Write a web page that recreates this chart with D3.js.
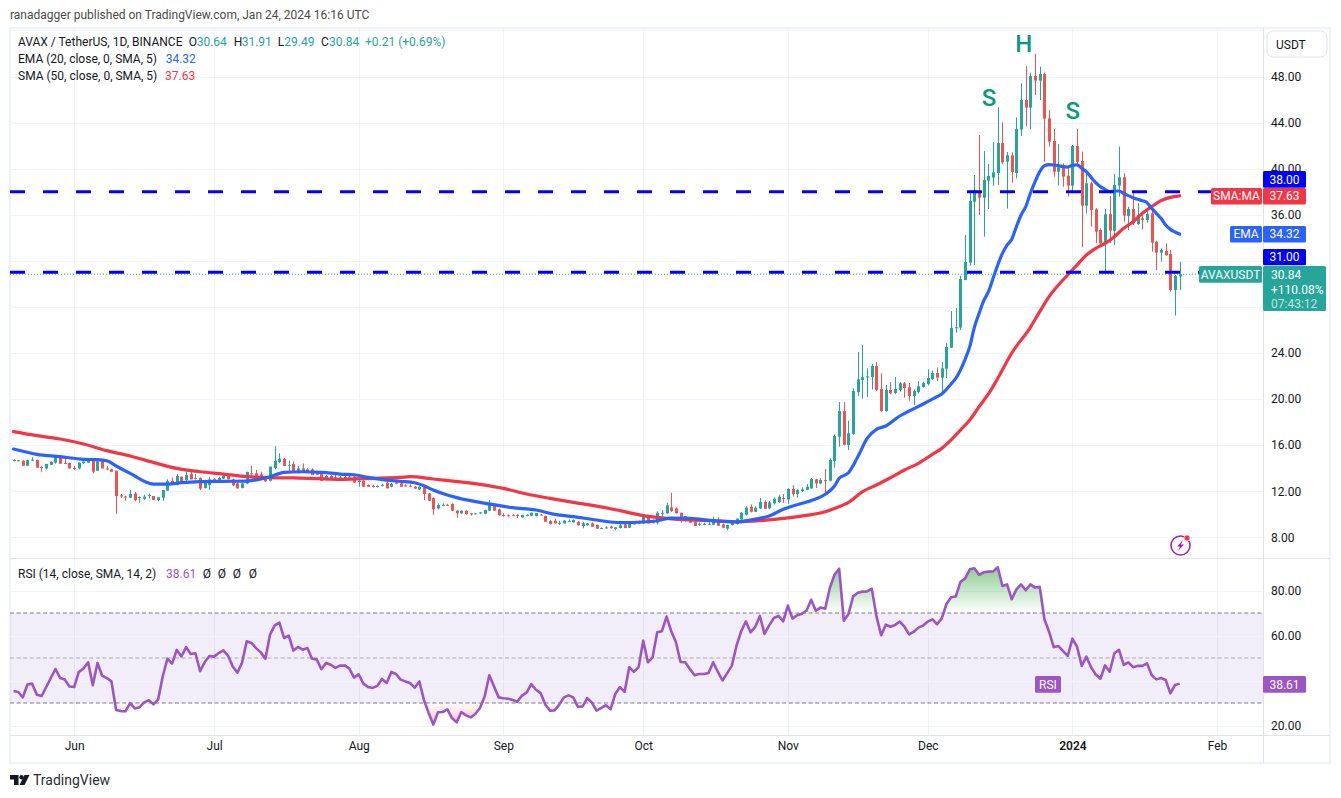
<!DOCTYPE html>
<html lang="en">
<head>
<meta charset="utf-8">
<script src="https://d3js.org/d3.v7.min.js"></script>
<style type="text/css">
html, body { margin: 0; padding: 0; background: #fff; }
svg { display: block; }
text { font-family: Roboto, sans-serif; font-size: 12px; fill: #131722; }
.grid line { stroke: #f0f3fa; stroke-width: 1; shape-rendering: crispEdges; }
.grid path, .axis path, .axis line { display: none; }
.axis text { font-size: 12px; fill: #131722; }
</style>
</head>
<body>
<svg id="chart" width="1341" height="798"></svg>
<script type="text/javascript">

// daily candles, 2023-05-19 to 2024-01-24
const opens = [
14.66,14.68,14.65,14.22,14.7,14.71,14.1,13.98,14.3,14.48,
14.91,14.45,14.45,14.02,13.98,14.42,14.48,14.82,13.78,14.68,
13.98,13.9,13.78,11.64,11.55,11.44,11.81,11.44,11.35,11.58,
11.58,11.24,11.44,12.05,12.91,12.54,13.26,12.97,13.49,13.12,
13.15,12.28,12.54,13.05,12.8,13.09,13.32,13.03,12.68,12.28,
12.68,13.55,13.55,13.46,13.26,12.91,14.01,14.53,14.82,14.24,
14.36,13.69,13.98,13.73,13.9,13.44,13.49,13.0,13.32,13.2,
13.12,13.24,13.18,13.26,12.8,12.91,12.54,12.48,12.39,12.45,
12.74,12.39,12.74,12.68,12.5,12.48,12.39,12.16,12.34,11.81,
11.41,10.51,10.74,10.82,10.89,10.31,10.08,10.31,10.08,10.06,
10.08,10.05,10.31,10.8,10.42,9.93,9.91,9.92,9.93,9.73,
9.85,9.88,9.85,9.96,9.85,9.41,9.44,9.25,9.21,9.41,
9.3,9.35,8.98,9.04,9.21,9.07,8.78,8.84,8.92,8.72,
8.8,9.12,8.83,9.3,9.3,9.21,9.73,9.27,9.27,10.1,
10.08,10.6,10.51,10.13,9.5,9.56,9.35,9.15,9.15,9.15,
9.09,9.44,9.12,8.75,9.07,9.15,9.56,9.96,10.66,10.22,
10.51,11.06,10.51,10.95,11.06,11.4,11.29,12.19,11.76,12.02,
12.13,12.25,13.03,12.68,12.97,12.91,14.62,16.73,18.96,16.01,
16.97,20.61,21.65,21.92,21.91,22.87,20.87,18.96,20.79,20.53,
20.79,21.37,21.02,20.27,20.61,21.05,21.31,21.74,22.26,21.86,
22.64,24.46,26.17,26.2,30.33,31.84,37.14,38.06,37.48,38.96,
39.22,39.62,42.23,40.61,41.16,39.62,43.39,45.96,45.3,48.05,
47.64,48.22,44.37,42.4,39.74,40.26,39.39,38.53,41.97,40.67,
36.79,38.73,36.47,34.68,33.6,36.06,34.62,38.53,39.25,35.89,
36.5,35.2,35.69,35.54,36.12,33.66,32.71,32.85,32.59,29.47,
30.64];
const highs = [
14.76,14.72,14.68,14.74,14.94,14.74,14.16,14.38,14.58,15.03,
15.05,14.85,14.5,14.2,14.5,14.59,14.85,14.9,14.65,14.72,
14.2,13.95,13.8,11.76,11.6,12.1,11.93,11.55,11.7,11.81,
11.6,11.47,12.1,13.03,13.2,13.49,13.3,13.69,13.69,13.49,
13.2,13.0,13.26,13.15,13.25,13.55,13.4,13.1,12.9,12.75,
13.7,14.19,13.84,13.69,13.35,14.13,15.92,15.29,14.9,14.65,
14.59,14.2,14.42,14.0,14.0,13.6,13.69,13.4,13.4,13.45,
13.3,13.4,13.35,13.4,12.97,13.0,12.6,12.55,12.5,12.65,
12.9,12.72,12.85,12.72,12.6,12.6,12.45,12.42,12.4,11.85,
11.45,10.95,10.95,10.9,10.95,10.35,10.35,10.35,10.12,10.12,
10.2,10.4,11.24,10.85,10.5,10.08,9.98,10.0,10.02,9.96,
10.0,10.15,10.12,10.02,9.88,9.5,9.61,9.45,9.5,9.55,
9.55,9.4,9.35,9.25,9.3,9.1,8.86,8.95,9.02,8.88,
9.15,9.2,9.3,9.35,9.45,9.9,9.95,9.55,10.25,10.37,
11.0,11.87,10.6,10.15,9.85,9.6,9.4,9.3,9.28,9.3,
9.79,9.75,9.2,9.1,9.4,9.65,10.2,10.7,10.85,10.7,
11.41,11.2,11.15,11.45,11.7,11.76,12.25,12.54,12.16,12.34,
12.63,13.15,13.09,13.15,13.93,14.85,16.94,19.74,19.74,18.12,
20.93,24.09,24.69,22.67,23.04,23.22,22.23,21.22,21.48,21.91,
21.48,21.48,21.42,20.84,21.57,21.51,22.58,22.46,22.75,23.22,
24.87,27.64,27.9,30.71,34.24,38.0,39.45,42.92,41.53,40.4,
42.32,45.33,44.02,41.45,41.42,44.46,47.41,48.91,48.34,49.96,
48.86,48.36,45.1,43.44,42.14,40.46,40.17,42.06,43.44,41.48,
39.6,38.87,36.56,34.82,36.5,37.63,39.54,41.91,39.6,36.7,
37.86,36.99,36.27,36.56,36.7,33.75,33.08,33.52,32.94,30.77,
31.91];
const lows = [
14.6,14.6,14.2,14.2,14.66,14.04,13.69,13.9,14.28,14.4,
14.39,14.39,13.98,13.84,13.9,14.38,14.45,13.55,13.75,13.98,
13.82,13.69,10.02,11.41,11.18,11.4,11.12,11.0,11.24,11.38,
11.24,11.12,11.15,12.05,12.54,12.5,12.83,12.9,13.03,13.03,
12.1,12.25,12.1,12.85,12.75,13.05,13.03,12.45,12.22,12.25,
12.6,13.25,13.0,13.1,12.8,12.86,13.9,14.45,14.19,13.78,
13.61,13.55,13.62,13.6,13.41,13.4,12.91,12.95,13.09,13.1,
12.98,13.05,13.1,12.74,12.39,12.39,12.39,12.33,12.33,12.42,
12.25,12.35,12.6,12.39,12.4,12.36,12.2,12.1,11.24,11.15,
9.96,10.42,10.7,10.74,10.31,9.7,10.03,9.95,9.88,10.0,
10.03,10.0,10.28,10.31,9.9,9.79,9.8,9.84,9.67,9.7,
9.82,9.85,9.82,9.9,9.35,9.12,9.2,9.08,9.18,9.35,
9.28,9.04,8.78,9.0,8.92,8.75,8.74,8.75,8.78,8.64,
8.78,8.8,8.8,9.1,9.2,9.15,9.21,9.2,9.1,9.79,
10.05,10.2,10.08,9.27,9.35,9.27,8.98,9.0,9.05,9.08,
9.05,9.0,8.83,8.6,9.02,9.1,9.5,9.9,10.15,10.18,
10.45,10.48,10.45,10.85,11.0,11.0,10.89,11.53,11.44,11.93,
12.08,12.19,12.28,12.6,11.81,12.86,14.04,15.87,15.98,15.58,
16.91,20.27,20.03,20.18,20.84,20.7,18.88,18.9,20.41,20.44,
20.64,20.12,19.86,19.48,20.5,20.99,21.19,21.65,21.57,20.5,
21.83,24.43,25.76,26.0,30.33,31.58,31.64,35.98,34.1,36.5,
38.53,38.58,40.38,36.53,38.79,39.16,42.84,43.7,43.42,46.4,
45.96,40.61,41.91,39.3,38.53,38.44,37.57,38.06,40.32,33.17,
36.12,34.97,33.52,33.29,31.03,33.52,33.37,37.57,35.4,34.68,
35.11,35.11,34.73,35.31,32.79,31.2,31.93,32.42,29.32,27.24,
29.49];
const closes = [
14.7,14.62,14.22,14.7,14.74,14.04,14.04,14.36,14.56,15.0,
14.39,14.4,13.98,13.98,14.48,14.59,14.82,13.69,14.59,13.98,
13.9,13.69,11.58,11.55,11.53,11.76,11.21,11.5,11.53,11.67,
11.24,11.47,12.1,12.86,12.54,13.32,12.83,13.41,13.03,13.14,
12.22,12.97,13.03,13.03,13.15,13.32,13.03,12.51,12.25,12.68,
13.67,13.5,13.26,13.2,12.86,14.13,14.65,14.82,14.19,14.3,
13.61,13.98,13.69,13.9,13.41,13.55,12.91,13.32,13.09,13.12,
13.2,13.12,13.26,12.74,12.91,12.39,12.39,12.36,12.45,12.54,
12.25,12.62,12.68,12.39,12.45,12.39,12.22,12.39,11.76,11.18,
10.42,10.8,10.83,10.8,10.31,10.08,10.31,10.02,10.02,10.08,
10.16,10.37,10.95,10.31,9.9,9.9,9.88,9.89,9.86,9.93,
9.96,10.13,10.1,9.95,9.35,9.15,9.21,9.27,9.44,9.43,
9.5,9.04,9.21,9.21,8.92,8.75,8.8,8.86,8.78,8.86,
9.04,8.8,9.27,9.12,9.25,9.79,9.21,9.44,10.13,10.13,
10.77,10.28,10.08,9.5,9.85,9.27,8.98,9.17,9.17,9.18,
9.44,9.01,8.83,9.07,9.35,9.61,10.13,10.57,10.22,10.57,
11.06,10.48,11.03,11.35,11.53,11.32,12.19,11.76,12.1,12.16,
12.39,13.06,12.68,12.97,12.93,14.71,16.79,18.96,16.04,17.02,
20.7,21.71,21.89,21.97,22.87,20.79,18.96,20.79,20.5,20.87,
21.37,20.96,20.27,20.7,21.1,21.39,21.83,22.26,21.86,22.67,
24.52,26.17,26.23,30.42,31.9,37.19,38.15,37.48,39.02,39.36,
39.68,42.23,40.55,41.16,39.71,43.44,45.96,45.3,48.05,47.64,
48.22,44.34,42.35,39.74,40.12,39.3,38.53,41.97,40.58,36.79,
38.73,36.41,34.53,33.52,36.04,34.62,38.58,39.25,35.92,36.5,
35.25,35.98,35.54,36.06,33.58,32.71,32.94,32.5,29.47,30.68,
30.84];

// moving averages, read at these candle numbers
const emaDays = [0,5,10,15,18,20,22,25,30,33,36,40,45,50,55,58,62,66,70,73,76,80,83,86,88,90,95,100,103,107,112,116,120,125,130,135,138,141,145,150,155,158,162,165,168,170,174,176,177,179,181,183,185,187,190,192,195,198,199,201,202,204,205,206,207,208,209,210,211,212,213,214,215,216,217,218,219,220,221,222,223,224,225,226,227,228,229,230,231,232,233,234,235,236,237,238,239,240,241,242,243,244,245,246,247,248,249,250];
const emaValues = [15.66,15.2,15.0,14.77,14.74,14.65,14.19,13.55,12.62,12.62,12.74,12.83,12.86,12.88,13.26,13.64,13.69,13.64,13.49,13.43,13.2,12.97,12.86,12.74,12.48,12.1,11.44,11.03,10.83,10.57,10.37,9.99,9.79,9.5,9.27,9.33,9.44,9.67,9.64,9.44,9.33,9.5,9.85,10.43,10.83,11.06,11.73,12.45,13.12,13.61,14.99,16.59,17.37,17.66,18.53,18.96,19.57,20.21,20.44,21.31,21.8,23.45,24.55,26.25,27.44,28.54,29.32,30.48,31.64,32.65,33.37,33.87,34.97,35.98,36.7,37.86,38.87,39.74,40.26,40.35,40.32,40.26,40.17,40.14,40.29,40.32,40.03,39.74,39.25,38.79,38.44,38.21,38.0,38.06,38.06,37.86,37.66,37.48,37.34,37.22,37.05,36.56,36.12,35.69,35.11,34.73,34.5,34.32];
const smaDays = [0,5,10,15,20,25,30,35,40,45,50,55,60,65,70,75,80,83,85,90,100,105,110,115,120,125,130,135,140,145,150,155,160,165,170,174,176,179,182,185,188,191,194,197,199,201,203,205,207,209,211,214,218,220,222,224,226,228,230,232,234,236,238,240,242,244,246,248,250];
const smaValues = [17.17,16.82,16.53,16.1,15.52,15.06,14.5,13.98,13.69,13.49,13.26,13.17,13.15,13.09,13.03,13.09,13.15,13.2,13.26,13.06,12.6,12.25,11.76,11.38,11.03,10.71,10.31,9.88,9.64,9.5,9.44,9.35,9.44,9.64,9.9,10.22,10.51,11.03,11.96,12.54,13.17,13.84,14.42,15.2,15.72,16.45,17.31,18.18,19.34,20.44,21.8,24.0,26.23,27.59,28.89,29.9,30.77,31.64,32.5,33.08,33.52,34.1,34.82,35.4,36.12,36.7,37.22,37.51,37.63];

const rsiValues = [
35.3,34.9,32.5,38.2,38.6,33.7,33.1,37,41.1,45.1,
41.1,40.4,37.3,37.1,43.8,45.3,48.1,37.9,47.8,42.2,
41.1,39.6,26.9,26.4,26.3,29.9,27.6,28.1,30.3,31.2,
29.4,31.5,41.9,49.7,47.5,53.6,50.7,54.8,51.8,52.1,
44.1,48.2,50.9,50.6,52.2,53.4,51,46.2,43.5,48,
57.4,56.7,54.4,52.5,49.7,60.4,64.5,65.7,58.9,59.9,
53.3,54.9,53.7,54.4,49.7,49.4,45,47.8,47,45.6,
46.6,46.7,45.3,41.3,42.7,38.6,37.1,36.7,37.6,40.7,
38.9,43.8,42.9,40.4,39.6,38.9,36.8,39.6,31.2,25.6,
20.4,25.9,26,27.2,23.3,21.4,26,24.5,23.6,25.1,
27.8,32.9,42.3,37.4,32.5,32.1,31.9,31.3,30.6,33.3,
34.6,38.4,35.9,34.4,29.3,26.6,26.7,29.3,32.5,33.4,
32.5,28.2,28.5,32.2,30.1,26.6,27.8,29,27.2,34,
37.1,34.9,45.9,43.8,45.9,57.7,48.1,50.3,61.4,61.9,
68.4,61.9,57.1,48.2,48.1,45.1,42.3,42.9,42.9,43.3,
48.1,43.8,40,43.3,46.6,55.5,61.9,66.3,61.4,63.8,
68.7,60.7,64.5,67.8,68.7,66.3,73.3,67.5,69,69.7,
71,75.9,71,72.4,71.9,81.1,87,89.7,66.6,69.6,
77.4,79,79.5,79.6,80.8,68.5,60.1,64.8,63.9,64.7,
66.2,63.9,60.5,61.7,63.5,64.4,66.2,67.2,65,67.6,
74,77,77.3,83.8,85.4,89.4,89.9,87,88.1,88.4,
88.5,90.3,82,82.7,76.1,80.5,82.7,80.1,82.7,81.3,
81.6,67.2,61.7,54.8,55.3,53.1,50.9,58.6,55,46.5,
50.6,45.9,42.7,40.8,46.7,43.9,52.1,53.6,46.9,48.1,
45.9,46.5,46.5,47.6,42.3,40.5,41.1,40.2,34.3,38,
38.61];

// axes
const priceTicks = [8,12,16,20,24,36,40,44,48];
const priceGrid = [8,12,16,20,24,28,32,36,40,44,48,52];
const rsiGrid = [20,40,60,80];
const rsiTicks = [20,60,80];
const monthTicks = ["2023-06-01","2023-07-01","2023-08-01","2023-09-01","2023-10-01","2023-11-01","2023-12-01","2024-01-01","2024-02-01"];
const monthLabels = ["Jun","Jul","Aug","Sep","Oct","Nov","Dec","2024","Feb"];

// drawn levels and pattern letters
const levels = [38, 31];
const patternLetters = ["S","H","S"];
const patternDays = [209.1,216.6,227.1];
const patternPrices = [45.44,50.13,44.31];

const legendEma = "34.32", legendSma = "37.63", legendRsi = "38.61";
const colUp = "#26a69a", colDown = "#ef5350", colEma = "#2962ff", colSma = "#f23645", colRsi = "#9c55c2", colLevel = "#0000ff";

const parseDay = d3.utcParse("%Y-%m-%d");
const firstDay = parseDay("2023-05-19");
const dayOf = n => new Date(+firstDay + n * 864e5);
const days = closes.map((c, i) => dayOf(i));
const monthDates = monthTicks.map(parseDay);

const paneLeft = 10, paneRight = 1263, priceTop = 28, priceBottom = 558, rsiTop = 559, rsiBottom = 735;

var x = d3.scaleUtc().domain([firstDay, parseDay("2024-02-01")]).range([13.5, 1217]);
var y = d3.scaleLinear().domain([8, 48]).range([537.3, 76.5]);
var yRsi = d3.scaleLinear().domain([20, 80]).range([725.5, 590.5]);

var svg = d3.select("#chart");
var defs = svg.append("defs");

defs.append("clipPath").attr("id", "pricePane").append("rect")
	.attr("x", paneLeft).attr("y", priceTop).attr("width", paneRight - paneLeft).attr("height", priceBottom - priceTop);
defs.append("clipPath").attr("id", "rsiTopClip").append("rect")
	.attr("x", paneLeft).attr("y", rsiTop).attr("width", paneRight - paneLeft).attr("height", yRsi(70) - rsiTop);
defs.append("clipPath").attr("id", "rsiLowClip").append("rect")
	.attr("x", paneLeft).attr("y", yRsi(30)).attr("width", paneRight - paneLeft).attr("height", rsiBottom - yRsi(30));

var gradUp = defs.append("linearGradient").attr("id", "gradUp").attr("gradientUnits", "userSpaceOnUse")
	.attr("x1", 0).attr("x2", 0).attr("y1", yRsi(90)).attr("y2", yRsi(70));
gradUp.append("stop").attr("offset", 0).attr("stop-color", "#4caf50").attr("stop-opacity", 0.62);
gradUp.append("stop").attr("offset", 1).attr("stop-color", "#4caf50").attr("stop-opacity", 0);
var gradDown = defs.append("linearGradient").attr("id", "gradDown").attr("gradientUnits", "userSpaceOnUse")
	.attr("x1", 0).attr("x2", 0).attr("y1", yRsi(30)).attr("y2", yRsi(20));
gradDown.append("stop").attr("offset", 0).attr("stop-color", "#ff5252").attr("stop-opacity", 0);
gradDown.append("stop").attr("offset", 1).attr("stop-color", "#ff5252").attr("stop-opacity", 0.4);

// frame
svg.append("rect").attr("x", 10).attr("y", 28).attr("width", 1320).attr("height", 735)
	.attr("fill", "none").attr("stroke", "#f0f3fa").attr("stroke-width", 2.5);

// grids
svg.append("g").attr("class", "grid")
	.attr("transform", "translate(" + paneLeft + ",0)")
	.call(d3.axisRight(y).tickValues(priceGrid).tickSize(paneRight - paneLeft).tickFormat(""));
svg.append("g").attr("class", "grid")
	.attr("transform", "translate(0," + priceTop + ")")
	.call(d3.axisBottom(x).tickValues(monthDates).tickSize(priceBottom - priceTop).tickFormat(""));
svg.append("g").attr("class", "grid")
	.attr("transform", "translate(0," + rsiTop + ")")
	.call(d3.axisBottom(x).tickValues(monthDates).tickSize(rsiBottom - rsiTop).tickFormat(""));

// rsi band
svg.append("rect").attr("x", paneLeft).attr("width", paneRight - paneLeft)
	.attr("y", yRsi(70)).attr("height", yRsi(30) - yRsi(70))
	.attr("fill", "#7e57c2").attr("fill-opacity", 0.1);
svg.append("g").attr("class", "grid")
	.attr("transform", "translate(" + paneLeft + ",0)")
	.call(d3.axisRight(yRsi).tickValues(rsiGrid).tickSize(paneRight - paneLeft).tickFormat(""));

// pane separators
svg.append("g").selectAll("line").data([558.5, 735.5]).join("line")
	.attr("x1", paneLeft).attr("x2", 1330).attr("y1", d => d).attr("y2", d => d)
	.attr("stroke", "#e0e3eb").attr("stroke-width", 1);
svg.append("line").attr("x1", 1263.5).attr("x2", 1263.5).attr("y1", 28).attr("y2", 763)
	.attr("stroke", "#e0e3eb").attr("stroke-width", 1);

// axis labels
var priceAxis = svg.append("g").attr("class", "axis")
	.attr("transform", "translate(1271,0)")
	.call(d3.axisRight(y).tickValues(priceTicks).tickSize(0).tickPadding(0).tickFormat(d3.format(".2f")));
var rsiAxis = svg.append("g").attr("class", "axis")
	.attr("transform", "translate(1271,0)")
	.call(d3.axisRight(yRsi).tickValues(rsiTicks).tickSize(0).tickPadding(0).tickFormat(d3.format(".2f")));
var timeAxis = svg.append("g").attr("class", "axis")
	.attr("transform", "translate(0,741)")
	.call(d3.axisBottom(x).tickValues(monthDates).tickSize(0).tickPadding(0)
		.tickFormat((d, i) => monthLabels[i]));
timeAxis.selectAll("text").filter((d, i) => monthLabels[i] === "2024").style("font-weight", 600);

// candles
var candleData = days.map((d, i) => ({ day: d, o: opens[i], h: highs[i], l: lows[i], c: closes[i] }));
var candles = svg.append("g").attr("clip-path", "url(#pricePane)");
candles.selectAll("rect.wick").data(candleData).join("rect").attr("class", "wick")
	.attr("x", d => Math.round(x(d.day)))
	.attr("width", 1)
	.attr("y", d => y(d.h))
	.attr("height", d => y(d.l) - y(d.h))
	.attr("fill", d => d.c >= d.o ? colUp : colDown);
candles.selectAll("rect.body").data(candleData).join("rect").attr("class", "body")
	.attr("x", d => Math.round(x(d.day)) - 1)
	.attr("width", 3)
	.attr("y", d => y(Math.max(d.o, d.c)))
	.attr("height", d => Math.max(1, Math.abs(y(d.o) - y(d.c))))
	.attr("fill", d => d.c >= d.o ? colUp : colDown);

// moving averages
var maLine = d3.line().x(d => x(dayOf(d[0]))).y(d => y(d[1])).curve(d3.curveMonotoneX);
svg.append("path").attr("d", maLine(smaDays.map((d, i) => [d, smaValues[i]])))
	.attr("fill", "none").attr("stroke", colSma).attr("stroke-width", 3.2).attr("stroke-linecap", "round");
svg.append("path").attr("d", maLine(emaDays.map((d, i) => [d, emaValues[i]])))
	.attr("fill", "none").attr("stroke", colEma).attr("stroke-width", 3.2).attr("stroke-linecap", "round");

// last price dotted line
svg.append("line").attr("x1", paneLeft).attr("x2", paneRight)
	.attr("y1", y(closes[closes.length - 1])).attr("y2", y(closes[closes.length - 1]))
	.attr("stroke", colUp).attr("stroke-width", 1).attr("stroke-dasharray", "1 2");

// support / resistance levels
svg.append("g").selectAll("line").data(levels).join("line")
	.attr("x1", paneLeft).attr("x2", paneRight)
	.attr("y1", d => y(d)).attr("y2", d => y(d))
	.attr("stroke", colLevel).attr("stroke-width", 3).attr("stroke-dasharray", "15 18");

// S H S
svg.append("g").selectAll("text").data(patternLetters).join("text")
	.attr("x", (d, i) => x(dayOf(patternDays[i])))
	.attr("y", (d, i) => y(patternPrices[i]))
	.attr("text-anchor", "middle")
	.style("font-size", "24px")
	.style("font-weight", 500)
	.style("fill", "#089981")
	.text(d => d);

// rsi pane
var rsiDash = [[70, "#787b86"], [50, "#787b8699"], [30, "#787b86"]];
svg.append("g").selectAll("line").data(rsiDash).join("line")
	.attr("x1", paneLeft).attr("x2", paneRight)
	.attr("y1", d => yRsi(d[0])).attr("y2", d => yRsi(d[0]))
	.attr("stroke", d => d[1]).attr("stroke-width", 1).attr("stroke-dasharray", "4 2.6");

var rsiFill = d3.area().x((d, i) => x(days[i])).y1(d => yRsi(d));
svg.append("path").attr("clip-path", "url(#rsiTopClip)")
	.attr("d", rsiFill.y0(yRsi(70))(rsiValues)).attr("fill", "url(#gradUp)");
svg.append("path").attr("clip-path", "url(#rsiLowClip)")
	.attr("d", rsiFill.y0(yRsi(30))(rsiValues)).attr("fill", "url(#gradDown)");
svg.append("path")
	.attr("d", d3.line().x((d, i) => x(days[i])).y(d => yRsi(d))(rsiValues))
	.attr("fill", "none").attr("stroke", colRsi).attr("stroke-width", 2.6).attr("stroke-linejoin", "round");

// price tags on the scale
function tag(x0, x1, top, bottom, fill, str) {
	svg.append("rect").attr("x", x0).attr("y", top).attr("width", x1 - x0).attr("height", bottom - top)
		.attr("rx", 1.5).attr("fill", fill);
	svg.append("text").attr("x", (x0 + x1) / 2).attr("y", (top + bottom) / 2 + 4.2)
		.attr("text-anchor", "middle").style("fill", "#fff").text(str);
}
tag(1263, 1306, 171, 187.7, colLevel, "38.00");
tag(1211, 1262, 188, 204.5, colSma, "SMA:MA");
tag(1263, 1306, 188, 204.5, colSma, "37.63");
tag(1230, 1262, 226, 242.5, colEma, "EMA");
tag(1263, 1306, 226, 242.5, colEma, "34.32");
tag(1263, 1306, 249, 265.3, colLevel, "31.00");
tag(1199, 1262, 266, 282.7, colUp, "AVAXUSDT");
tag(1035, 1061, 676, 692.7, colRsi, "RSI");
tag(1263, 1306, 676, 692.7, colRsi, "38.61");

svg.append("rect").attr("x", 1263).attr("y", 266).attr("width", 63).attr("height", 45).attr("rx", 1.5).attr("fill", colUp);
var lastTag = [["30.84", 1], ["+110.08%", 1], ["07:43:12", 0.7]];
svg.append("g").selectAll("text").data(lastTag).join("text")
	.attr("x", 1271)
	.attr("y", (d, i) => 279 + i * 14.6)
	.style("fill", "#fff").style("fill-opacity", d => d[1])
	.text(d => d[0]);

// currency button
svg.append("rect").attr("x", 1267).attr("y", 31).attr("width", 60).attr("height", 26).attr("rx", 6)
	.attr("fill", "#fff").attr("stroke", "#e0e3eb");
svg.append("text").attr("x", 1276).attr("y", 49).text("USDT");

// header and legend
svg.append("text").attr("x", 10).attr("y", 19).style("fill", "#4a4a4a").text("ranadagger published on TradingView.com, Jan 24, 2024 16:16 UTC");
svg.append("text").attr("x", 18).attr("y", 46).text("AVAX / TetherUS, 1D, BINANCE");
var ohlcLegend = [["O", 188.7, 0], ["30.64", 196.7, 1], ["H", 233.7, 0], ["31.91", 241.7, 1], ["L", 277.7, 0], ["29.49", 284.3, 1], ["C", 321, 0], ["30.84", 329, 1], ["+0.21 (+0.69%)", 365, 1]];
svg.append("g").selectAll("text").data(ohlcLegend).join("text")
	.attr("x", d => d[1]).attr("y", 46)
	.style("fill", d => d[2] ? colUp : "#131722")
	.text(d => d[0]);
svg.append("text").attr("x", 18).attr("y", 63).text("EMA (20, close, 0, SMA, 5)");
svg.append("text").attr("x", 165.7).attr("y", 63).style("fill", colEma).text(legendEma);
svg.append("text").attr("x", 18).attr("y", 80).text("SMA (50, close, 0, SMA, 5)");
svg.append("text").attr("x", 165).attr("y", 80).style("fill", colSma).text(legendSma);
svg.append("text").attr("x", 18).attr("y", 578).text("RSI (14, close, SMA, 14, 2)");
svg.append("text").attr("x", 166).attr("y", 578).style("fill", colRsi).text(legendRsi);
svg.append("g").selectAll("text").data([207, 222, 237, 253]).join("text")
	.attr("x", d => d).attr("y", 578).attr("text-anchor", "middle").text("Ø");

// lightning badge
var badge = svg.append("g").attr("transform", "translate(1180.5,545.5)");
badge.append("circle").attr("r", 9.5).attr("fill", "#fff").attr("stroke", "#9c27b0").attr("stroke-width", 1.6);
badge.append("path").attr("d", "M2.5,-5.5 L-3.5,1 L-0.5,1 L-2.5,5.5 L3.5,-1 L0.5,-1 Z").attr("fill", "#9c27b0");
badge.append("circle").attr("cx", 6.5).attr("cy", -7.5).attr("r", 3).attr("fill", "#f23645").attr("stroke", "#fff").attr("stroke-width", 0.6);

// logo
var logo = svg.append("g").attr("transform", "translate(10,775)").attr("fill", "#131722");
logo.append("path").attr("d", "M0,0 H8.5 V10 H4 V4.5 H0 Z");
logo.append("circle").attr("cx", 11.5).attr("cy", 2.2).attr("r", 2.2);
logo.append("path").attr("d", "M14.5,0 H19.5 L14.5,10 H9.5 Z");
svg.append("text").attr("x", 33).attr("y", 785).style("font-size", "14px").style("fill", "#2a2e39").text("TradingView");

</script>
</body>
</html>
